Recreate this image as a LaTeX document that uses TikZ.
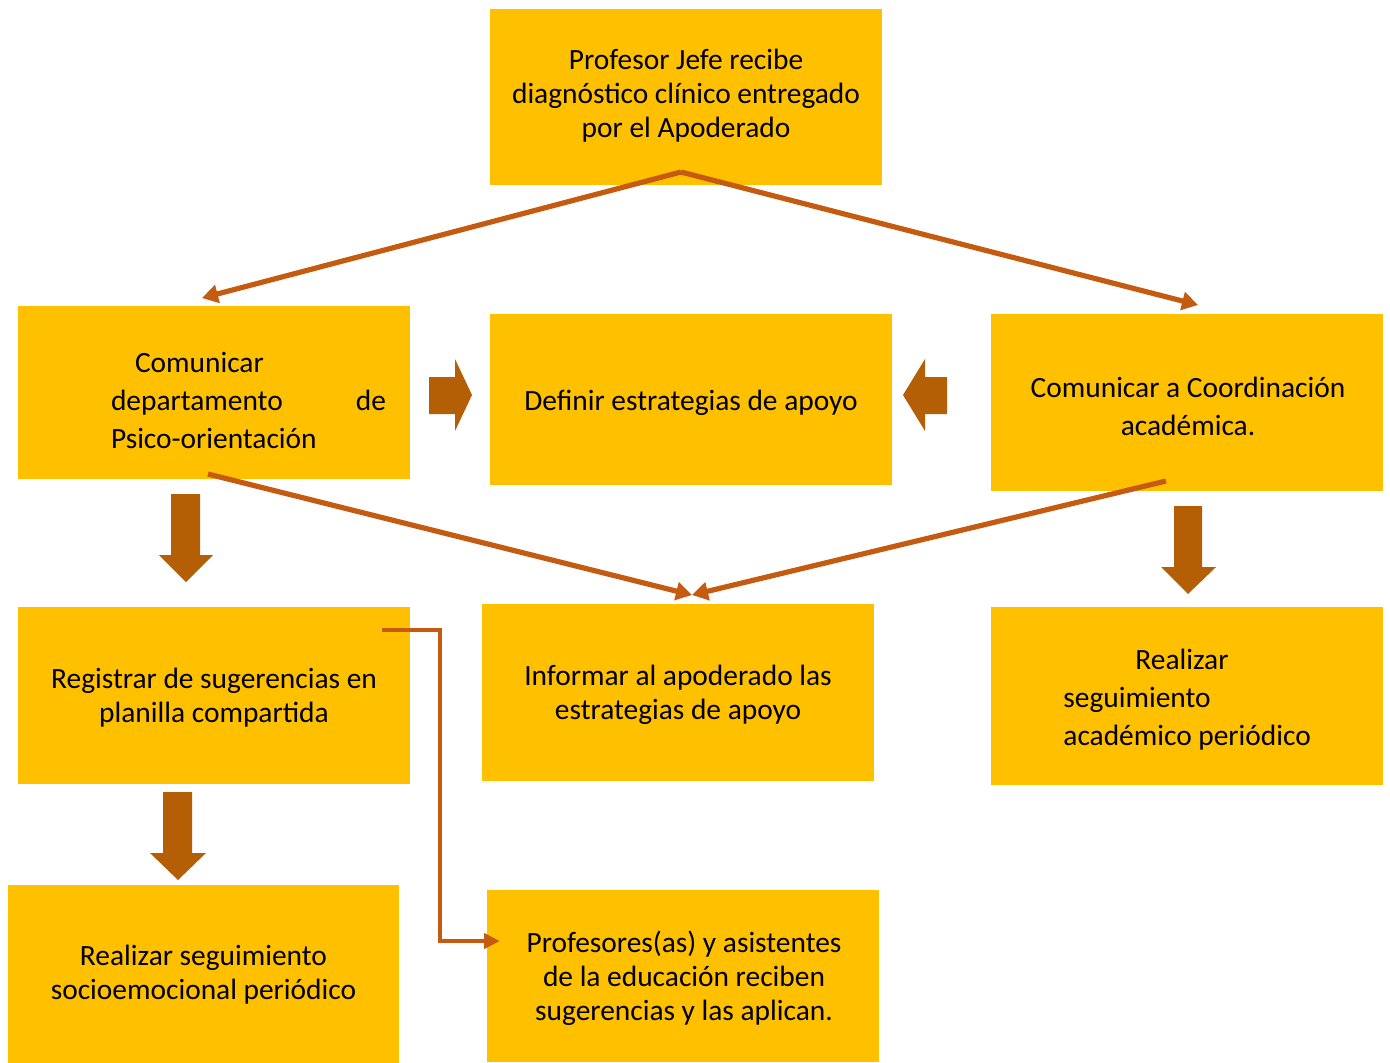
\documentclass[tikz,border=0pt]{standalone}
\usepackage{fontspec}
\setmainfont{Carlito}
\usetikzlibrary{arrows.meta}
\definecolor{boxfill}{HTML}{FFC000}
\definecolor{thin}{HTML}{C55A11}
\definecolor{blockc}{HTML}{B45F06}
\tikzset{
  box/.style={fill=boxfill, draw=none, inner sep=0pt},
  txt/.style={font=\fontsize{14.7}{17}\selectfont, align=center, inner sep=0pt},
  txtw/.style={font=\fontsize{14.7}{19}\selectfont, inner sep=0pt},
  conn/.style={draw=thin, line width=2.6pt, -{Triangle[length=8pt,width=9pt]}},
  elbow/.style={draw=thin, line width=2.2pt, -{Triangle[length=8pt,width=7.5pt]}},
  block/.style={fill=blockc, draw=none}
}
\begin{document}
\begin{tikzpicture}[x=0.5pt,y=-0.5pt]
\useasboundingbox (0,0) rectangle (1390,1062);
% boxes
\node[box, minimum width=196pt, minimum height=88pt] (b1) at (686,97) {};
\node[txt] (t1) at (686,96) {Profesor Jefe recibe\\diagnóstico clínico entregado\\por el Apoderado};
\node[box, minimum width=196pt, minimum height=86.5pt] (b2) at (214,392.5) {};
\node[txtw, text width=137.5pt, align=left] (t2) at (248.5,400) {\hspace*{12pt}Comunicar\\departamento\hfill de\\Psico-orientación};
\node[box, minimum width=201pt, minimum height=85.5pt] (b3) at (691,399.5) {};
\node[txt] (t3) at (691,403) {Definir estrategias de apoyo};
\node[box, minimum width=196pt, minimum height=88.5pt] (b4) at (1187,402.5) {};
\node[txtw, align=center] (t4) at (1188,406) {Comunicar a Coordinación\\académica.};
\node[box, minimum width=196pt, minimum height=88.5pt] (b5) at (214,695.5) {};
\node[txt] (t5) at (214,698) {Registrar de sugerencias en\\planilla compartida};
\node[box, minimum width=196pt, minimum height=88.5pt] (b6) at (678,692.5) {};
\node[txt] (t6) at (678,695) {Informar al apoderado las\\estrategias de apoyo};
\node[box, minimum width=196pt, minimum height=89pt] (b7) at (1187,696) {};
\node[txtw, anchor=west, align=left] (t7) at (1063,700) {\hspace*{36pt}Realizar\\seguimiento\\académico periódico};
\node[box, minimum width=195.5pt, minimum height=89pt] (b8) at (203.5,973.5) {};
\node[txt] (t8) at (203.5,975) {Realizar seguimiento\\socioemocional periódico};
\node[box, minimum width=196pt, minimum height=86pt] (b9) at (683,976) {};
\node[txt] (t9) at (684,978) {Profesores(as) y asistentes\\de la educación reciben\\sugerencias y las aplican.};
% thin connector coordinates
\coordinate (s1) at (681,172);
\coordinate (e2) at (202,298);
\coordinate (e4) at (1198,305);
\coordinate (s2) at (208,474);
\coordinate (s4) at (1166,481);
\coordinate (e6) at (692,595);
\coordinate (s5) at (382,630);
\coordinate (e9) at (500,941);
\draw[conn] (s1) -- (e2);
\draw[conn] (s1) -- (e4);
\draw[conn] (s2) -- (e6);
\draw[conn] (s4) -- (e6);
\draw[elbow] (s5) -- (440,630) -- (440,941) -- (e9);
% block arrows
\fill[block] (429,377) -- (455,377) -- (455,359) -- (472,395) -- (455,431) -- (455,414) -- (429,414) -- cycle;
\fill[block] (947,377) -- (925,377) -- (925,359) -- (903,395) -- (925,431) -- (925,414) -- (947,414) -- cycle;
\fill[block] (171,494) -- (200,494) -- (200,555) -- (213,555) -- (186,582) -- (159,555) -- (171,555) -- cycle;
\fill[block] (1174,506) -- (1202,506) -- (1202,567) -- (1216,567) -- (1188,594) -- (1161,567) -- (1174,567) -- cycle;
\fill[block] (163,792) -- (192,792) -- (192,853) -- (206,853) -- (178,880) -- (150,853) -- (163,853) -- cycle;
\end{tikzpicture}
\end{document}
